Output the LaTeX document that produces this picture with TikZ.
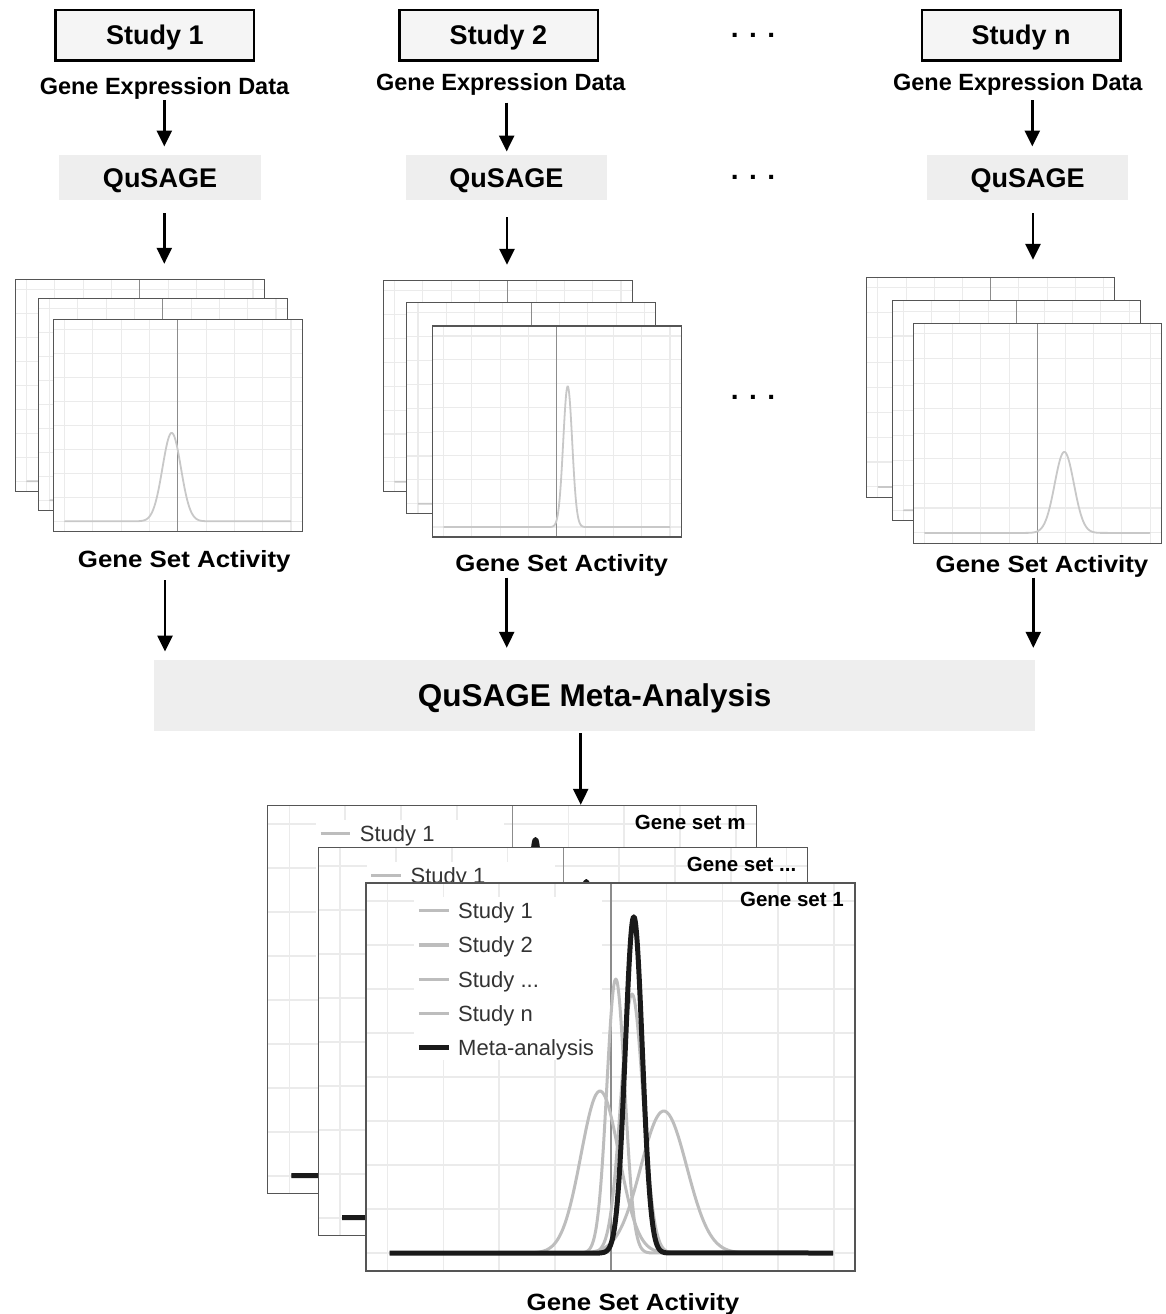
\documentclass[tikz,border=0pt]{standalone}
\usepackage{fontspec}
\setmainfont{Liberation Sans}
\newfontfamily\widefont[FakeStretch=1.1]{Liberation Sans}
\usetikzlibrary{arrows.meta}
\definecolor{studyfill}{HTML}{F5F5F5}
\definecolor{qfill}{HTML}{EEEEEE}
\definecolor{gridc}{HTML}{EBEBEB}
\definecolor{axisc}{HTML}{8C8C8C}
\definecolor{framec}{HTML}{555555}
\definecolor{curvelight}{HTML}{C8C8C8}
\definecolor{curvegray}{HTML}{BDBDBD}
\definecolor{curveblack}{HTML}{1A1A1A}
\definecolor{legtext}{HTML}{333333}

\newcommand{\gcurve}[7]{%
  \pgfmathsetmacro{\gcA}{#5-4*#6}%
  \pgfmathsetmacro{\gcB}{#5+4*#6}%
  \draw[#1] ({#2},#4) -- (\gcA,#4) -- plot[domain=\gcA:\gcB, samples=90, smooth]
    (\x,{#4-#7*exp(-0.5*((\x-#5)/#6)^2)}) -- ({#3},#4);}

% x0, y0, w, h, mu, sigma, H
\newcommand{\smallpanel}[7]{%
\begin{scope}[shift={(#1,#2)}]
  \pgfmathsetmacro{\spM}{0.0472*#4}%
  \pgfmathsetmacro{\spD}{(#4-2*\spM)/8}%
  \pgfmathsetmacro{\spG}{0.1137*#3}%
  \pgfmathsetmacro{\spB}{#4-\spM}%
  \fill[white] (0,0) rectangle (#3,#4);
  \foreach \k in {-4,...,4}{\draw[gridS] ({#3/2+\k*\spG},0) -- ({#3/2+\k*\spG},#4);}
  \foreach \k in {0,...,8}{\draw[gridS] (0,{\spM+\k*\spD}) -- (#3,{\spM+\k*\spD});}
  \draw[axisS] ({#3/2},0) -- ({#3/2},#4);
  \gcurve{curveS}{0.047*#3}{0.953*#3}{\spB}{#5}{#6}{#7}
  \draw[frameS] (0,0) rectangle (#3,#4);
\end{scope}}

\newcommand{\legrow}[4]{% prefix, index, style, text
  \draw[#3] (52.8,{27.7+34.3*#2}) -- (82.5,{27.7+34.3*#2});
  \node[legtxt] (#1-leg#2) at (92,{27.7+34.3*#2}) {#4};}

% x0, y0, label, name prefix  (only the first legend row; the rest is hidden in back panels)
\newcommand{\bigpanel}[4]{%
\begin{scope}[shift={(#1,#2)}]
  \fill[white] (0,0) rectangle (489,388);
  \foreach \k in {-4,...,4}{\draw[gridB] ({244.8+\k*55.8},0) -- ({244.8+\k*55.8},388);}
  \foreach \k in {0,...,8}{\draw[gridB] (0,{18+\k*44}) -- (489,{18+\k*44});}
  \fill[white] (48,14) rectangle (236,177);
  \draw[axisB] (244.8,0) -- (244.8,388);
  \gcurve{curveG}{23.6}{467}{370}{249.8}{9}{274}
  \gcurve{curveG}{23.6}{467}{370}{266}{11}{259}
  \gcurve{curveG}{23.6}{467}{370}{234}{19}{162}
  \gcurve{curveG}{23.6}{467}{370}{297.8}{23}{142}
  \gcurve{curveK}{23.6}{467}{370}{267.8}{8.5}{336.3}
  \legrow{#4}{0}{legG}{Study 1}
  \node[gslabel] (#4-lab) at (478,16.5) {#3};
  \draw[frameB] (0,0) rectangle (489,388);
\end{scope}}

\begin{document}
\begin{tikzpicture}[x=1pt,y=-1pt,
  gridS/.style={draw=gridc, line width=1.1pt},
  gridB/.style={draw=gridc, line width=1.6pt},
  axisS/.style={draw=axisc, line width=1.1pt},
  axisB/.style={draw=axisc, line width=1.4pt},
  frameS/.style={draw=framec, line width=1.4pt},
  frameB/.style={draw=framec, line width=1.5pt},
  curveS/.style={draw=curvelight, line width=1.8pt, line cap=round},
  curveG/.style={draw=curvegray, line width=3pt, line join=round},
  curveK/.style={draw=curveblack, line width=5pt, line join=round},
  legG/.style={draw=curvegray, line width=3.5pt},
  legK/.style={draw=curveblack, line width=5pt},
  studybox/.style={draw=black, line width=2.5pt, fill=studyfill, inner sep=0pt,
    minimum width=198.5pt, minimum height=50.7pt,
    font=\fontsize{27}{32}\selectfont\bfseries, text height=19.3pt, text depth=0pt},
  gedtxt/.style={inner sep=0pt, font=\fontsize{23.5}{28}\selectfont\bfseries,
    text height=16.8pt, text depth=0pt},
  qbox/.style={fill=qfill, inner sep=0pt, minimum width=201.4pt, minimum height=45pt,
    font=\fontsize{27}{32}\selectfont\bfseries, text height=19.3pt, text depth=0pt},
  gsatxt/.style={inner sep=0pt, font=\widefont\fontsize{23.5}{28}\selectfont\bfseries,
    text height=16.8pt, text depth=0pt},
  metabox/.style={fill=qfill, inner sep=0pt, minimum width=880.7pt, minimum height=70.7pt,
    font=\fontsize{31.5}{36}\selectfont\bfseries, text height=22.6pt, text depth=0pt},
  dotstxt/.style={inner sep=0pt, font=\fontsize{28}{32}\selectfont\bfseries},
  gslabel/.style={inner sep=0pt, anchor=east, font=\fontsize{20.5}{24}\selectfont\bfseries,
    text height=14.7pt, text depth=0pt},
  legtxt/.style={inner sep=0pt, anchor=west, text=legtext, font=\fontsize{22}{26}\selectfont,
    text height=15.75pt, text depth=0pt},
  stack/.style={inner sep=0pt, draw=none},
  arr/.style={line width=2.6pt, -{Triangle[length=16pt,width=15pt]}}
]
\useasboundingbox (0,0) rectangle (1165,1314);
\fill[white] (0,0) rectangle (1165,1314);

% ---- top row
\node[studybox] (s1) at (154.85,35.35) {Study 1};
\node[studybox] (s2) at (498.5,35.35) {Study 2};
\node[studybox] (sn) at (1021.2,35.35) {Study n};
\node[dotstxt] (d1) at (753,35) {. . .};

\node[gedtxt] (g1) at (164.5,85.7) {Gene Expression Data};
\node[gedtxt] (g2) at (500.8,82.3) {Gene Expression Data};
\node[gedtxt] (gn) at (1017.8,82.3) {Gene Expression Data};

\node[qbox] (q1) at (160,177.5) {QuSAGE};
\node[qbox] (q2) at (506.35,177.5) {QuSAGE};
\node[qbox] (qn) at (1027.5,177.5) {QuSAGE};
\node[dotstxt] (d2) at (753,177) {. . .};

% ---- per-study panel stacks
\smallpanel{15.3}{279.3}{249}{212}{118.4}{9.2}{88.4}
\smallpanel{38.3}{298.3}{249}{212}{118.4}{9.2}{88.4}
\smallpanel{53.3}{319.3}{249}{212}{118.4}{9.2}{88.4}

\smallpanel{383.3}{280.7}{249}{211}{135.4}{4.5}{140.7}
\smallpanel{406.7}{302.7}{249}{211}{135.4}{4.5}{140.7}
\smallpanel{432.3}{326}{249}{211}{135.4}{4.5}{140.7}

\smallpanel{866.7}{277.3}{248}{220}{151}{9.6}{81}
\smallpanel{892.3}{300.7}{248}{220}{151}{9.6}{81}
\smallpanel{913.3}{323.3}{248}{220}{151}{9.6}{81}

\node[dotstxt] (d3) at (753,397) {. . .};

\node[stack, minimum width=287pt, minimum height=252pt] (p1) at (158.8,405.3) {};
\node[stack, minimum width=298pt, minimum height=256.3pt] (p2) at (532.3,408.85) {};
\node[stack, minimum width=294.6pt, minimum height=266pt] (pn) at (1014,410.3) {};

\node[gsatxt] (a1) at (184.2,558.7) {Gene Set Activity};
\node[gsatxt] (a2) at (561.7,562.8) {Gene Set Activity};
\node[gsatxt] (an) at (1042,564.2) {Gene Set Activity};

% ---- meta-analysis
\node[metabox] (meta) at (594.65,695.35) {QuSAGE Meta-Analysis};

\bigpanel{267.7}{805.7}{Gene set m}{bm}
\bigpanel{318.5}{847.7}{Gene set ...}{bd}
\bigpanel{366}{883}{Gene set 1}{b1}
\begin{scope}[shift={(366,883)}]
  \legrow{b1}{1}{legG}{Study 2}
  \legrow{b1}{2}{legG}{Study ...}
  \legrow{b1}{3}{legG}{Study n}
  \legrow{b1}{4}{legK}{Meta-analysis}
\end{scope}
\node[stack, minimum width=587.3pt, minimum height=465.3pt] (pb) at (561.35,1038.35) {};

\node[gsatxt] (ab) at (633,1301.7) {Gene Set Activity};

% ---- connectors
\draw[arr, shorten <=5.9pt, shorten >=8.3pt] ([xshift=-0.2pt]g1.south) -- ([xshift=-0.2pt]g1.south |- q1.north);
\draw[arr, shorten <=11.8pt, shorten >=3.3pt] ([xshift=5.9pt]g2.south) -- ([xshift=5.9pt]g2.south |- q2.north);
\draw[arr, shorten <=9.3pt, shorten >=8.3pt] ([xshift=14.5pt]gn.south) -- ([xshift=14.5pt]gn.south |- qn.north);

\draw[arr, shorten <=13pt, shorten >=15.3pt] ([xshift=4.3pt]q1.south) -- ([xshift=4.3pt]q1.south |- p1.north);
\draw[arr, shorten <=17pt, shorten >=15.7pt] ([xshift=0.65pt]q2.south) -- ([xshift=0.65pt]q2.south |- p2.north);
\draw[arr, shorten <=13pt, shorten >=17.3pt] ([xshift=5.5pt]qn.south) -- ([xshift=5.5pt]qn.south |- pn.north);

\draw[arr, shorten <=12.9pt, shorten >=8.3pt] ([xshift=-19.2pt]a1.south) -- ([xshift=-19.2pt]a1.south |- meta.north);
\draw[arr, shorten <=6.1pt, shorten >=12pt] ([xshift=-55pt]a2.south) -- ([xshift=-55pt]a2.south |- meta.north);
\draw[arr, shorten <=4.7pt, shorten >=12pt] ([xshift=-8.7pt]an.south) -- ([xshift=-8.7pt]an.south |- meta.north);

\draw[arr, shorten <=2.3pt, shorten >=0.7pt] ([xshift=-13.95pt]meta.south) -- ([xshift=-13.95pt]meta.south |- pb.north);
\end{tikzpicture}
\end{document}
